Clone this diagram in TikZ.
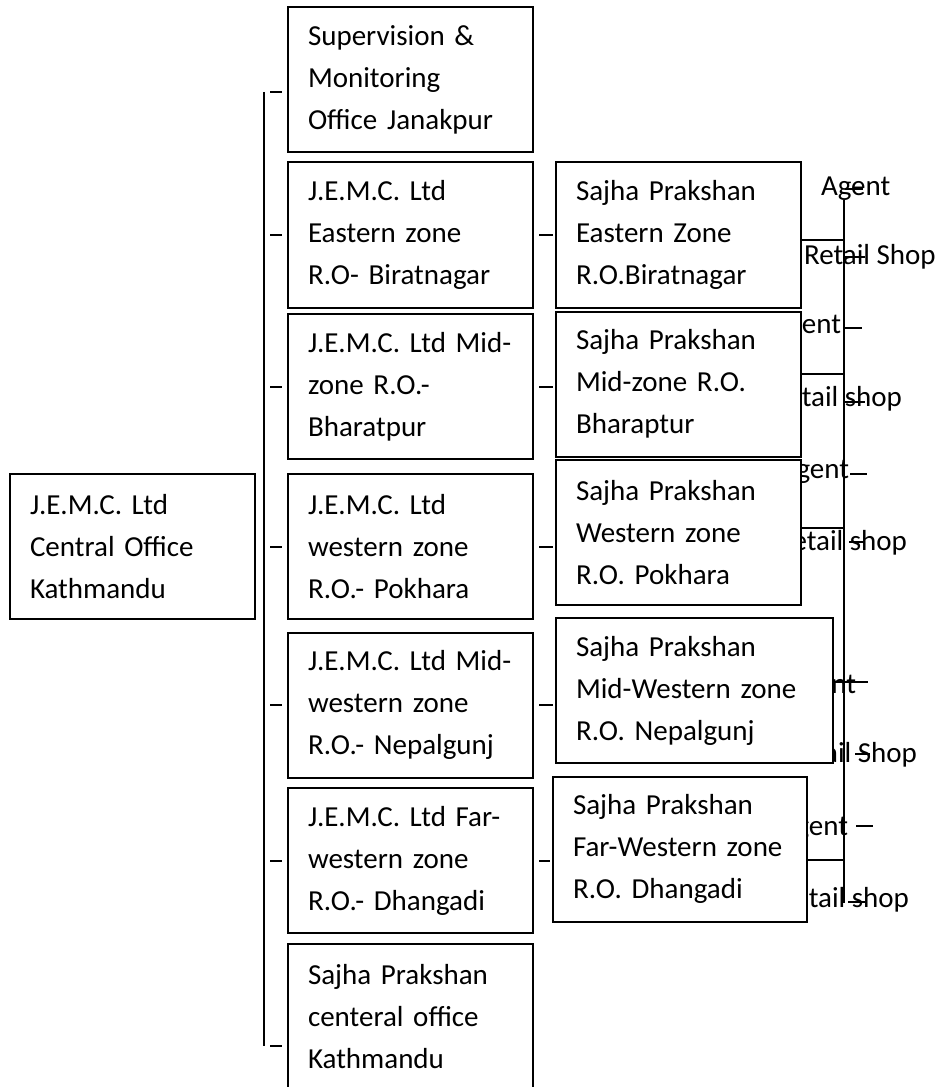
\documentclass[tikz,border=0pt]{standalone}
\usepackage{fontspec}
\setmainfont{Carlito}
\usepackage{tikz}

\begin{document}
\begin{tikzpicture}[x=0.75pt,y=-0.75pt,line width=1.5pt,
	office/.style={draw=black,fill=white,inner xsep=15pt,inner ysep=0pt,align=left,minimum height=108.75pt,font=\fontsize{21.75}{31.5}\selectfont},
	shoplabel/.style={inner sep=0pt,font=\fontsize{21.75}{26}\selectfont},
	lefttick/.style={shorten <=4.5pt,shorten >=3.75pt},
	midtick/.style={shorten <=3.75pt,shorten >=1.5pt}]
		\useasboundingbox (0,0) rectangle (942,1087);
		\node [shoplabel,anchor=base west] (ag1) at (820,196) {Agent};
		\node [shoplabel,anchor=base west] (rs1) at (803,265) {Retail Shop};
		\node [shoplabel,anchor=base east] (ag2) at (842,333) {Agent};
		\node [shoplabel,anchor=base east] (rs2) at (903,406) {Retail shop};
		\node [shoplabel,anchor=base east] (ag3) at (850,478) {Agent};
		\node [shoplabel,anchor=base east] (rs3) at (908,550) {Retail shop};
		\node [shoplabel,anchor=base east] (ag4) at (857,693) {Agent};
		\node [shoplabel,anchor=base east] (rs4) at (918,762) {Retail Shop};
		\node [shoplabel,anchor=base east] (ag5) at (849,835) {Agent};
		\node [shoplabel,anchor=base east] (rs5) at (910,907) {Retail shop};
		\foreach \xa/\xb/\y in {845/863/189,845/865/257,845/862/328,845/865/402,850/867/474,849/865/542,832/868/682,855/870/754,856/873/826,848/865/902}
			\draw [black] (\xa,\y) -- (\xb,\y);
		\node [office,text width=153.75pt] (ho) at (132.5,546.5) {J.E.M.C. Ltd\\Central Office\\Kathmandu};
		\node [office,text width=153.75pt] (smo) at (410.5,79.5) {Supervision \&\\Monitoring\\Office Janakpur};
		\node [office,text width=153.75pt] (ez) at (410.5,235) {J.E.M.C. Ltd\\Eastern zone\\R.O- Biratnagar};
		\node [office,text width=153.75pt] (mz) at (410.5,386.5) {J.E.M.C. Ltd Mid-\\zone R.O.-\\Bharatpur};
		\node [office,text width=153.75pt] (wz) at (410.5,546.5) {J.E.M.C. Ltd\\western zone\\R.O.- Pokhara};
		\node [office,text width=153.75pt] (mwz) at (410.5,705) {J.E.M.C. Ltd Mid-\\western zone\\R.O.- Nepalgunj};
		\node [office,text width=153.75pt] (fwz) at (410.5,860.5) {J.E.M.C. Ltd Far-\\western zone\\R.O.- Dhangadi};
		\node [office,text width=153.75pt] (spc) at (410.5,1016.5) {Sajha Prakshan\\centeral office\\Kathmandu};
		\node [office,text width=153.75pt] (spe) at (678.5,235) {Sajha Prakshan\\Eastern Zone\\R.O.Biratnagar};
		\node [office,text width=153.75pt] (spm) at (678.5,384) {Sajha Prakshan\\Mid-zone R.O.\\Bharaptur};
		\node [office,text width=153.75pt] (spw) at (678.5,532.5) {Sajha Prakshan\\Western zone\\R.O. Pokhara};
		\node [office,text width=177.75pt] (spmw) at (694.5,690.5) {Sajha Prakshan\\Mid-Western zone\\R.O. Nepalgunj};
		\node [office,text width=160.5pt] (spfw) at (680,849) {Sajha Prakshan\\Far-Western zone\\R.O. Dhangadi};
		\coordinate (btop) at (264,92);
		\coordinate (bbot) at (264,1046);
		\draw [black] (btop) -- (bbot);
		\draw [black,lefttick] (btop) -- (btop -| smo.west);
		\foreach \b in {ez,mz,wz,mwz,fwz}
			\draw [black,lefttick] (btop |- \b.west) -- (\b.west);
		\draw [black,lefttick] (bbot) -- (bbot -| spc.west);
		\foreach \a/\b in {ez/spe,mz/spm,wz/spw,mwz/spmw,fwz/spfw}
			\draw [black,midtick] (\a.east) -- (\a.east -| \b.west);
		\coordinate (rtop) at (844,200);
		\coordinate (rbot) at (844,903);
		\draw [black] (rtop) -- (rbot);
		\coordinate (r1) at (844,240);
		\coordinate (r2) at (844,374);
		\coordinate (r3) at (844,528);
		\coordinate (r4) at (844,860);
		\draw [black] (r1 -| spe.east) -- (r1);
		\draw [black] (r2 -| spm.east) -- (r2);
		\draw [black] (r3 -| spw.east) -- (r3);
		\draw [black] (r4 -| spfw.east) -- (r4);
	\end{tikzpicture}
\end{document}
